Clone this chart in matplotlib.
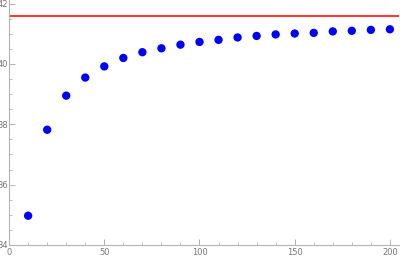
import matplotlib
matplotlib.use("Agg")
import matplotlib.pyplot as plt
from matplotlib.ticker import MultipleLocator

x_vals = [10, 20, 30, 40, 50, 60, 70, 80, 90, 100, 110, 120, 130, 140, 150, 160, 170, 180, 190, 200]
y_vals = [34.97, 37.82, 38.95, 39.55, 39.92, 40.20, 40.39, 40.52, 40.64, 40.73,
          40.80, 40.88, 40.93, 40.98, 41.01, 41.03, 41.08, 41.10, 41.13, 41.15]
limit_value = 41.6
x_ticks = [0, 50, 100, 150, 200]
y_ticks = [34, 36, 38, 40, 42]

W, H = 400, 257
fig = plt.figure(figsize=(W / 100, H / 100), dpi=100)
left, right, bottom, top = 9.1, 399, 245, 0
ax = fig.add_axes([left / W, (H - bottom) / H, (right - left) / W, (bottom - top) / H])

xmin = 0
xmax = xmin + (right - left) / 1.904
ymin = 34
ymax = 34 + (bottom - top) / 30.17
ax.set_xlim(xmin, xmax)
ax.set_ylim(ymin, ymax)

ax.axhline(limit_value, color="#f03c3c", lw=1.5, zorder=2)
ax.scatter(x_vals, y_vals, s=36, color="#0000ff", edgecolors="none", zorder=3)

gray = "#b4b4b4"
for s in ["top", "right"]:
    ax.spines[s].set_visible(False)
for s in ["left", "bottom"]:
    ax.spines[s].set_color(gray)
    ax.spines[s].set_linewidth(0.8)

ax.set_xticks(x_ticks)
ax.set_yticks(y_ticks)
ax.xaxis.set_minor_locator(MultipleLocator(10))
ax.yaxis.set_minor_locator(MultipleLocator(0.5))
ax.tick_params(axis="both", which="major", direction="in", length=4, width=0.7,
               color=gray, labelsize=6, labelcolor="#777777", pad=2)
ax.tick_params(axis="both", which="minor", direction="in", length=2.2, width=0.6, color=gray)
ax.tick_params(axis="y", pad=1)
ax.patch.set_alpha(0)
for lab in ax.get_yticklabels():
    lab.set_clip_on(False)

fig.savefig("out.png", dpi=100)
